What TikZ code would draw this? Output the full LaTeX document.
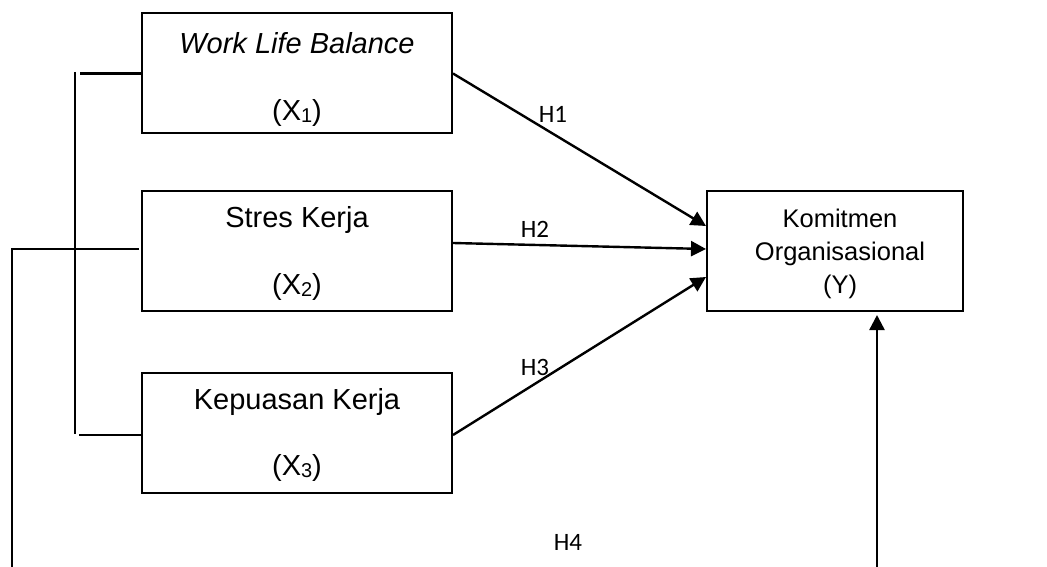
\documentclass[tikz,border=0pt]{standalone}
\usepackage{fontspec}
\setmainfont{Liberation Sans}
\newfontfamily\hfont{Carlito}
\usetikzlibrary{arrows.meta,calc}
\tikzset{
  varbox/.style={draw, line width=2pt, minimum width=310pt, minimum height=120pt, inner sep=0pt},
  ybox/.style={draw, line width=2pt, minimum width=256pt, minimum height=120pt, inner sep=0pt},
  boxtext/.style={inner sep=0pt, font=\fontsize{29}{33}\selectfont},
  ytext/.style={inner sep=0pt, align=center, font=\fontsize{25.5}{33}\selectfont},
  hlabel/.style={inner sep=0pt, font=\hfont\fontsize{25}{28}\selectfont},
  link/.style={line width=2.2pt},
  arrowlink/.style={line width=2.4pt, -{Triangle[length=15pt,width=15pt]}}
}
\newcommand{\sbx}[1]{\raisebox{-1.5pt}{\fontsize{20}{20}\selectfont #1}}
\begin{document}
\begin{tikzpicture}[x=1pt,y=-1pt]
\useasboundingbox (0,0) rectangle (1047,567);
% boxes
\node[varbox] (x1) at (297,73.5) {};
\node[varbox] (x2) at (297,251) {};
\node[varbox] (x3) at (297,433) {};
\node[ybox] (y) at (835,251) {};
% texts
\node[boxtext] (t1a) at (297,43) {\itshape Work Life Balance};
\node[boxtext] (t1b) at (297,113) {(X\sbx{1})};
\node[boxtext] (t2a) at (297,220) {Stres Kerja};
\node[boxtext] (t2b) at (297,287) {(X\sbx{2})};
\node[boxtext] (t3a) at (297,402) {Kepuasan Kerja};
\node[boxtext] (t3b) at (297,468) {(X\sbx{3})};
\node[ytext] (ty) at (840,254) {Komitmen\\Organisasional\\(Y)};
% hypothesis labels
\node[hlabel] (h1) at (553,114) {H1};
\node[hlabel] (h2) at (535,229) {H2};
\node[hlabel] (h3) at (535,367) {H3};
\node[hlabel] (h4) at (568,542) {H4};
% arrows to Y
\draw[arrowlink] (x1.east) -- ($(y.west)+(0,-25)$);
\draw[arrowlink] ($(x2.east)+(0,-8)$) -- ($(y.west)+(0,-2)$);
\draw[arrowlink] ($(x3.east)+(0,2)$) -- ($(y.west)+(0,26)$);
% bracket
\coordinate (bt) at (75,72);
\coordinate (bb) at (75,434);
\draw[link] (bt) -- (bb);
\draw[link] ($(x1.west)+(-61,0)$) -- (x1.west);
\draw[link] ($(x3.west)+(-62,2)$) -- ($(x3.west)+(0,2)$);
% long H4 path
\coordinate (lc) at (12,249);
\coordinate (lb) at (12,570);
\coordinate (rb) at (877,570);
\draw[link] ($(x2.west)+(-2,-2)$) -- (lc) -- (lb);
\draw[arrowlink] (rb) -- ($(y.south)+(42,3)$);
\end{tikzpicture}
\end{document}
